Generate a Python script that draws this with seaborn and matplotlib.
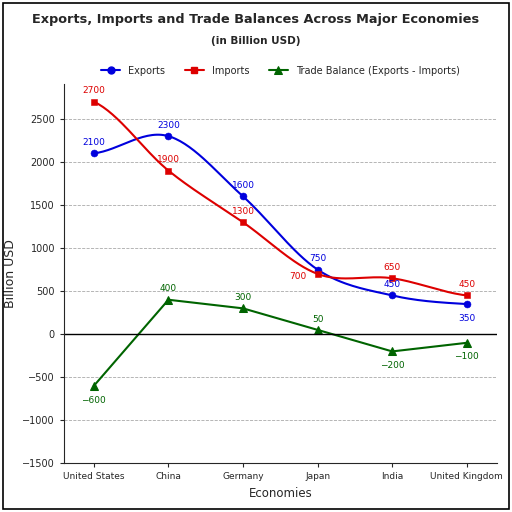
import numpy as np
import pandas as pd
import matplotlib
matplotlib.use("Agg")
import matplotlib.pyplot as plt
import seaborn as sns

countries = ["United States", "China", "Germany", "Japan", "India", "United Kingdom"]
exports = [2100, 2300, 1600, 750, 450, 350]
imports = [2700, 1900, 1300, 700, 650, 450]
balance = [-600, 400, 300, 50, -200, -100]

sns.set_style("white")
plt.rcParams['font.family'] = ['DejaVu Sans']

def smooth(x, y, n=200):
    # Catmull-Rom spline through points (rendering only)
    x = np.asarray(x, float); y = np.asarray(y, float)
    xs, ys = [], []
    for i in range(len(x) - 1):
        p0 = y[i - 1] if i > 0 else y[i]
        p1, p2 = y[i], y[i + 1]
        p3 = y[i + 2] if i + 2 < len(y) else y[i + 1]
        t = np.linspace(0, 1, n // len(x))
        yy = 0.5 * ((2 * p1) + (-p0 + p2) * t + (2 * p0 - 5 * p1 + 4 * p2 - p3) * t**2 + (-p0 + 3 * p1 - 3 * p2 + p3) * t**3)
        xs.append(x[i] + t * (x[i + 1] - x[i])); ys.append(yy)
    return np.concatenate(xs), np.concatenate(ys)

fig = plt.figure(figsize=(5.12, 5.12), dpi=100)
ax = fig.add_axes([0.125, 0.095, 0.845, 0.74])
x = np.arange(len(countries))

df = pd.DataFrame({"x": x, "Exports": exports, "Imports": imports, "Balance": balance})
for col, color, marker, label in [("Exports", "#0000dd", "o", "Exports"), ("Imports", "#dd0000", "s", "Imports")]:
    sx, sy = smooth(x, df[col])
    ax.plot(sx, sy, color=color, lw=1.5)
    sns.scatterplot(x=df["x"], y=df[col], ax=ax, color=color, marker=marker, s=25, edgecolor=color, zorder=3)
    ax.plot([], [], color=color, marker=marker, ms=5, lw=1.5, label=label)
sns.lineplot(x=df["x"], y=df["Balance"], ax=ax, color="#006400", marker="^", markersize=6,
             markeredgecolor="#006400", lw=1.5, label="Trade Balance (Exports - Imports)")

for i in range(len(x)):
    eoff = (0, -12) if countries[i] == "United Kingdom" else (0, 6)
    ax.annotate(str(exports[i]), (x[i], exports[i]), xytext=eoff, textcoords="offset points", ha="center", fontsize=6.5, color="#0000dd")
    off = (-14, -4) if countries[i] == "Japan" else (0, 6)
    ax.annotate(str(imports[i]), (x[i], imports[i]), xytext=off, textcoords="offset points", ha="center", fontsize=6.5, color="#dd0000")
    boff = (0, -12) if balance[i] < 0 else (0, 6)
    ax.annotate(str(balance[i]).replace("-", "\u2212"), (x[i], balance[i]), xytext=boff, textcoords="offset points", ha="center", fontsize=6.5, color="#006400")

ax.axhline(0, color="black", lw=1)
ax.set_ylim(-1500, 2900)
ax.set_xlim(-0.4, 5.4)
ax.set_yticks(range(-1500, 2501, 500))
ax.set_xticks(x)
ax.set_xticklabels(countries, fontsize=6.5)
ax.tick_params(axis="y", labelsize=7)
ax.tick_params(axis="both", length=3, left=True, bottom=True)
ax.yaxis.grid(True, ls="--", color="#aaaaaa", lw=0.6)
ax.set_axisbelow(True)
for s in ["top", "right"]:
    ax.spines[s].set_visible(False)
ax.set_xlabel("Economies", fontsize=8.5)
ax.set_ylabel("Billion USD", fontsize=9)
ax.legend(loc="lower center", bbox_to_anchor=(0.5, 1.0), ncol=3, frameon=False, fontsize=7, handlelength=2)

fig.text(0.5, 0.955, "Exports, Imports and Trade Balances Across Major Economies", ha="center", fontsize=9.3, fontweight="bold")
fig.text(0.5, 0.915, "(in Billion USD)", ha="center", fontsize=7.5, fontweight="bold")
fig.patches.append(plt.Rectangle((0.005, 0.005), 0.99, 0.99, transform=fig.transFigure, fill=False, ec="black", lw=1.2))
fig.savefig("out.png", dpi=100)
